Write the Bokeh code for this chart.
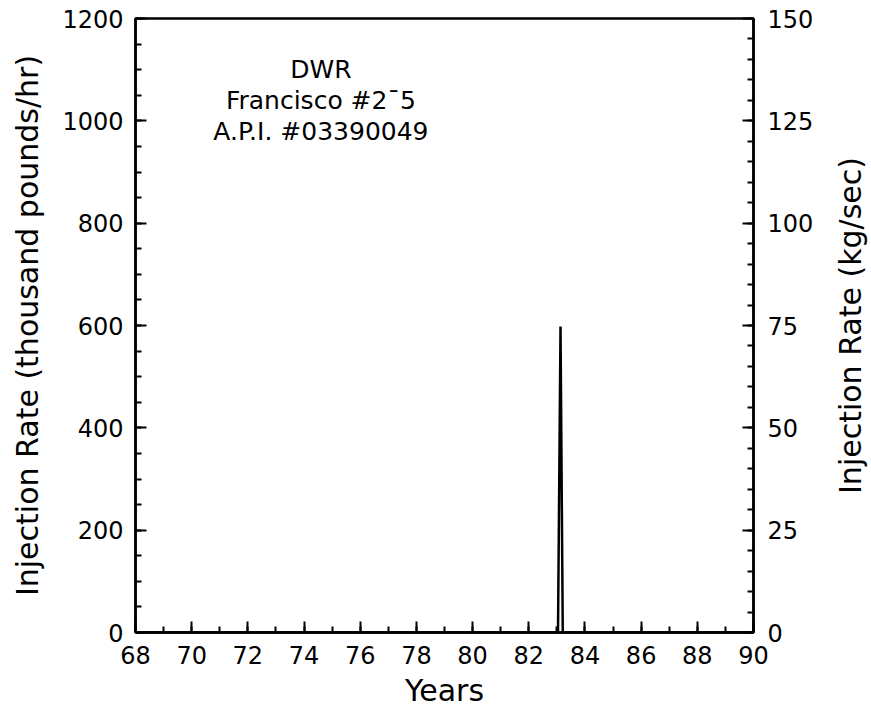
from bokeh.plotting import figure
from bokeh.layouts import row
from bokeh.models import LinearAxis, Range1d, SingleIntervalTicker, FixedTicker
from bokeh.core.properties import value
from bokeh.embed import file_html
from bokeh.resources import INLINE

# data (years, thousand pounds/hr)
years = [68.0, 83.04, 83.13, 83.21, 90.0]
rate = [0, 0, 598, 0, 0]

# annotation
note_lines = ["DWR", "Francisco #2¯5", "A.P.I. #03390049"]
note_x = [74.6, 74.6, 74.6]
note_y = [1100, 1040, 980]

FONT = "DejaVu Sans"

p = figure(frame_width=618, frame_height=614, x_range=Range1d(68, 90), y_range=Range1d(0, 1200),
           output_backend="svg", toolbar_location=None,
           min_border_left=135, min_border_right=70, min_border_top=18, min_border_bottom=76)
p.xgrid.visible = False
p.ygrid.visible = False
p.outline_line_color = "black"
p.outline_line_width = 2.5
p.background_fill_color = "white"
p.border_fill_color = "white"

p.extra_y_ranges = {"kg": Range1d(0, 150)}
right = LinearAxis(y_range_name="kg", ticker=SingleIntervalTicker(interval=25, num_minor_ticks=5))
p.add_layout(right, "right")

p.xaxis.ticker = SingleIntervalTicker(interval=2, num_minor_ticks=2)
p.yaxis[0].ticker = SingleIntervalTicker(interval=200, num_minor_ticks=4)
p.xaxis.axis_label = "Years"
p.yaxis[0].axis_label = "Injection Rate (thousand pounds/hr)"

for ax in [p.xaxis[0], p.yaxis[0], right]:
    ax.axis_line_width = 2.5
    ax.axis_line_color = "black"
    ax.major_tick_in = 11
    ax.major_tick_out = 0
    ax.minor_tick_in = 6
    ax.minor_tick_out = 0
    ax.major_tick_line_width = 2
    ax.minor_tick_line_width = 2
    ax.major_tick_line_color = "black"
    ax.minor_tick_line_color = "black"
    ax.major_label_text_font = FONT
    ax.major_label_text_font_size = "24px"
    ax.major_label_text_color = "black"
    ax.axis_label_text_font = FONT
    ax.axis_label_text_font_size = "30px"
    ax.axis_label_text_font_style = "normal"
    ax.axis_label_text_color = "black"

p.xaxis.major_label_standoff = 13
p.xaxis.axis_label_standoff = 6
p.yaxis[0].major_label_standoff = 12
p.yaxis[0].axis_label_standoff = 14
right.major_label_standoff = 14

p.line(years, rate, line_color="black", line_width=2.5)

p.text(x=note_x, y=note_y, text=note_lines, text_align="center", text_baseline="middle",
       text_font=value(FONT), text_font_size="25px", text_color="black")

# narrow companion panel carrying the right-hand (kg/sec) axis title, reading bottom-to-top
q = figure(frame_width=1, frame_height=614, y_range=Range1d(0, 150), x_range=Range1d(0, 1),
           output_backend="svg", toolbar_location=None,
           min_border_left=44, min_border_right=0, min_border_top=0, min_border_bottom=0)
q.xaxis.visible = False
q.xgrid.visible = False
q.ygrid.visible = False
q.outline_line_color = None
q.background_fill_color = "white"
q.border_fill_color = "white"
qa = q.yaxis[0]
qa.ticker = FixedTicker(ticks=[])
qa.axis_line_color = None
qa.major_tick_line_color = None
qa.minor_tick_line_color = None
qa.major_label_text_font_size = "0px"
qa.major_label_standoff = 0
qa.axis_label = "Injection Rate (kg/sec)"
qa.axis_label_text_font = FONT
qa.axis_label_text_font_size = "30px"
qa.axis_label_text_font_style = "normal"
qa.axis_label_text_color = "black"
qa.axis_label_standoff = 0

open("out.html", "w").write(file_html(row(p, q), INLINE))
